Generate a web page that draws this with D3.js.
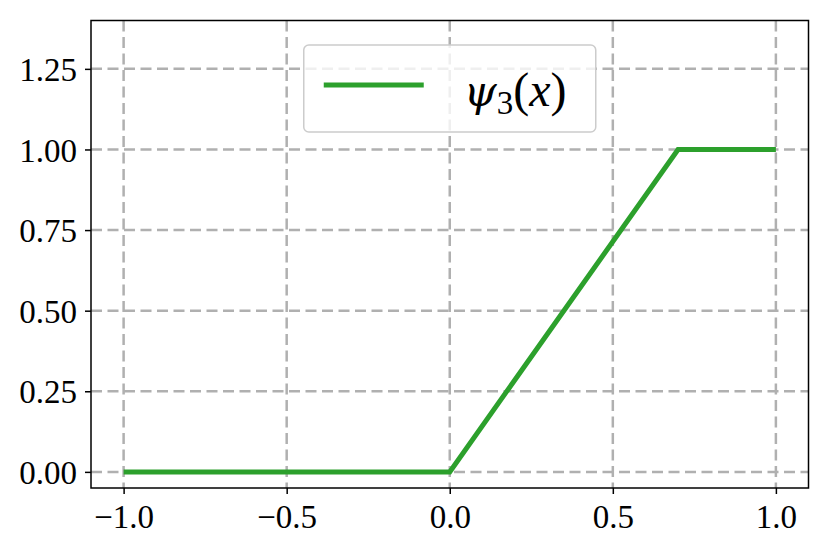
<!DOCTYPE html>
<html>
<head>
<meta charset="utf-8">
<script src="https://cdn.jsdelivr.net/npm/d3@7"></script>
<style>
  body { margin: 0; background: #fff; }
  svg { display: block; }
  .tick text { font-family: "Liberation Serif", "DejaVu Serif", serif; }
</style>
</head>
<body>
<div id="chart"></div>
<script>
// piecewise linear psi_3
const xValues = [-1.0, 0.0, 0.7, 1.0]
const psiValues = [0.0, 0.0, 1.0, 1.0]
const xTicks = [-1.0, -0.5, 0.0, 0.5, 1.0]
const yTicks = [0.0, 0.25, 0.5, 0.75, 1.0, 1.25]

const width = 829, height = 553
const margin = {top: 20.5, right: 20.5, bottom: 65, left: 91}

const svg = d3.select('#chart').append('svg')
    .attr('width', width)
    .attr('height', height)

const x = d3.scaleLinear()
    .domain([-1.1, 1.1])
    .range([margin.left, width - margin.right])

const y = d3.scaleLinear()
    .domain([-0.05, 1.4])
    .range([height - margin.bottom, margin.top])

const fmt = (d, n) => (d < 0 ? '\u2212' : '') + Math.abs(d).toFixed(n)

// grid
const grid = svg.append('g')
grid.selectAll('.vgrid').data(xTicks).join('line')
    .attr('x1', d => x(d)).attr('x2', d => x(d))
    .attr('y1', y.range()[1]).attr('y2', y.range()[0])
grid.selectAll('.hgrid').data(yTicks).join('line')
    .attr('x1', x.range()[0]).attr('x2', x.range()[1])
    .attr('y1', d => y(d)).attr('y2', d => y(d))
grid.selectAll('line')
    .attr('stroke', '#b0b0b0')
    .attr('stroke-width', 2.5)
    .attr('stroke-dasharray', '11,5.5')

// the function
const line = d3.line().x((d, i) => x(d)).y((d, i) => y(psiValues[i]))
svg.append('path')
    .datum(xValues)
    .attr('d', line)
    .attr('fill', 'none')
    .attr('stroke', '#2ca02c')
    .attr('stroke-width', 5)

// axes
const xAxis = svg.append('g')
    .attr('transform', `translate(0,${height - margin.bottom})`)
    .call(d3.axisBottom(x).tickValues(xTicks).tickFormat(d => fmt(d, 1)).tickSize(6).tickPadding(8))
const yAxis = svg.append('g')
    .attr('transform', `translate(${margin.left},0)`)
    .call(d3.axisLeft(y).tickValues(yTicks).tickFormat(d => fmt(d, 2)).tickSize(6).tickPadding(8))

for (const ax of [xAxis, yAxis]) {
    ax.select('.domain').remove()
    ax.selectAll('.tick line').attr('stroke', '#000').attr('stroke-width', 1.5)
    ax.selectAll('.tick text').attr('fill', '#000').attr('font-size', 33).style('font-size', '33px')
}
xAxis.selectAll('.tick text').attr('dy', '0.8em')
yAxis.selectAll('.tick text').attr('dy', '0.35em')

// frame
svg.append('rect')
    .attr('x', x.range()[0]).attr('y', y.range()[1])
    .attr('width', x.range()[1] - x.range()[0])
    .attr('height', y.range()[0] - y.range()[1])
    .attr('fill', 'none')
    .attr('stroke', '#000')
    .attr('stroke-width', 1.5)

// legend, upper center
const cx = (x.range()[0] + x.range()[1]) / 2
const legend = svg.append('g')
legend.append('rect')
    .attr('x', cx - 146).attr('y', 45)
    .attr('width', 292).attr('height', 87)
    .attr('rx', 5)
    .attr('fill', 'rgba(255,255,255,0.8)')
    .attr('stroke', '#cccccc')
    .attr('stroke-width', 1.5)
legend.append('line')
    .attr('x1', cx - 126).attr('x2', cx - 26)
    .attr('y1', 85).attr('y2', 85)
    .attr('stroke', '#2ca02c')
    .attr('stroke-width', 5)
const lt = legend.append('text')
    .attr('x', cx + 14).attr('y', 106)
    .style('font-family', 'Liberation Serif, DejaVu Serif, serif')
    .style('font-size', '48px')
    .attr('fill', '#000')
lt.append('tspan').style('font-family', 'DejaVu Serif').style('font-style', 'italic').style('font-size', '42px').text('\u03c8')
lt.append('tspan').attr('dy', 8).style('font-size', '33px').text('3')
lt.append('tspan').attr('dy', -8).text('(')
lt.append('tspan').style('font-style', 'italic').text('x')
lt.append('tspan').text(')')
</script>
</body>
</html>
